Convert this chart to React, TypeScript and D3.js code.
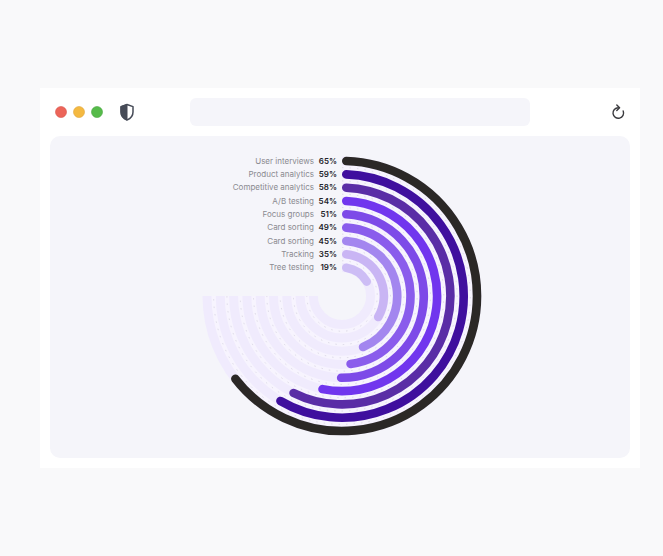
import React from "react";
import * as d3 from "d3";

const labels = ["User interviews", "Product analytics", "Competitive analytics", "A/B testing", "Focus groups", "Card sorting", "Card sorting", "Tracking", "Tree testing"];
const percents = [65, 59, 58, 54, 51, 49, 45, 35, 19];
const colors = ["#2b2826", "#3f0f9e", "#5a2da6", "#7136ee", "#7d4ae8", "#8a5cec", "#a386ef", "#c9b5f4", "#cdbdf5"];
const trackMax = 75; // track stops at three quarters of a turn

const W = 663;
const H = 556;
const cx = 342;
const cy = 296;
const barWidth = 8.6;
const font = "Inter, 'Noto Sans', sans-serif";

const angle = d3.scaleLinear().domain([0, 100]).range([-Math.PI / 2, 1.5 * Math.PI]);
const radius = d3.scalePoint<string>().domain(percents.map((_, i) => String(i))).range([135, 28.6]);
const rOf = (i: number) => radius(String(i)) as number;

// pad pulls both ends in along the ring, so the round caps stay inside the value
function arcPath(r: number, v: number, pad = 0) {
  const p = d3.path();
  p.arc(0, 0, r, angle(0) + pad / r, angle(v) - pad / r);
  return p.toString();
}

export default function App() {
  const step = rOf(0) - rOf(1);
  const band = d3.arc()({
    innerRadius: rOf(8) - 4,
    outerRadius: rOf(0) - 4,
    startAngle: 0,
    endAngle: 1.5 * Math.PI,
  }) as string;

  return (
    <svg width={W} height={H} style={{ position: "absolute", left: 0, top: 0, background: "#f9f9fa" }}>
      <rect x={40} y={88} width={600} height={380} fill="#ffffff" />
      <rect x={50} y={136} width={580} height={322} rx={10} fill="#f5f5fa" />
      <rect x={190} y={98} width={340} height={28} rx={6} fill="#f5f5fa" />

      <circle cx={61} cy={112} r={5.5} fill="#ec6559" stroke="#d9534a" strokeWidth={0.6} />
      <circle cx={79} cy={112} r={5.5} fill="#f4b941" stroke="#dfa53a" strokeWidth={0.6} />
      <circle cx={97} cy={112} r={5.5} fill="#56bb4a" stroke="#47a53e" strokeWidth={0.6} />

      <path d="M127 104.5 L133 106.6 V112 C133 116 130.5 118.6 127 120 C123.5 118.6 121 116 121 112 V106.6 Z" fill="none" stroke="#464b57" strokeWidth={1.5} strokeLinejoin="round" />
      <path d="M127 104.5 V120 C123.5 118.6 121 116 121 112 V106.6 Z" fill="#464b57" stroke="#464b57" strokeWidth={1} strokeLinejoin="round" />

      <path d="M623.2 111 A5.3 5.3 0 1 1 618.3 107.7" fill="none" stroke="#3a3a3e" strokeWidth={1.4} strokeLinecap="round" />
      <path d="M616.8 105 L619.6 107.7 L616.8 110.4" fill="none" stroke="#3a3a3e" strokeWidth={1.4} strokeLinecap="round" strokeLinejoin="round" />

      <g transform={`translate(${cx},${cy})`}>
        <path d={band} fill="#f7f4fe" />
        {percents.map((_, i) => (
          <path key={i} d={arcPath(rOf(i), trackMax)} fill="none" stroke="#f0ebfd" strokeWidth={9} />
        ))}
        {percents.slice(1).map((_, i) => (
          <path key={i} d={arcPath(rOf(i + 1) + step / 2, trackMax)} fill="none" stroke="#b9b5c4" strokeWidth={0.4} strokeDasharray="1.5 6" />
        ))}
        {percents.map((v, i) => (
          <path key={i} d={arcPath(rOf(i), v, barWidth / 2)} fill="none" stroke={colors[i]} strokeWidth={barWidth} strokeLinecap="round" />
        ))}
      </g>

      {labels.map((l, i) => {
        const y = cy - rOf(i);
        return (
          <g key={i} fontFamily={font} fontSize={8}>
            <text x={314} y={y} dy="0.35em" textAnchor="end" fill="#8a8a90">{l}</text>
            <text x={337} y={y} dy="0.35em" textAnchor="end" fill="#24242a" fontWeight={600}>{percents[i]}%</text>
          </g>
        );
      })}
    </svg>
  );
}
